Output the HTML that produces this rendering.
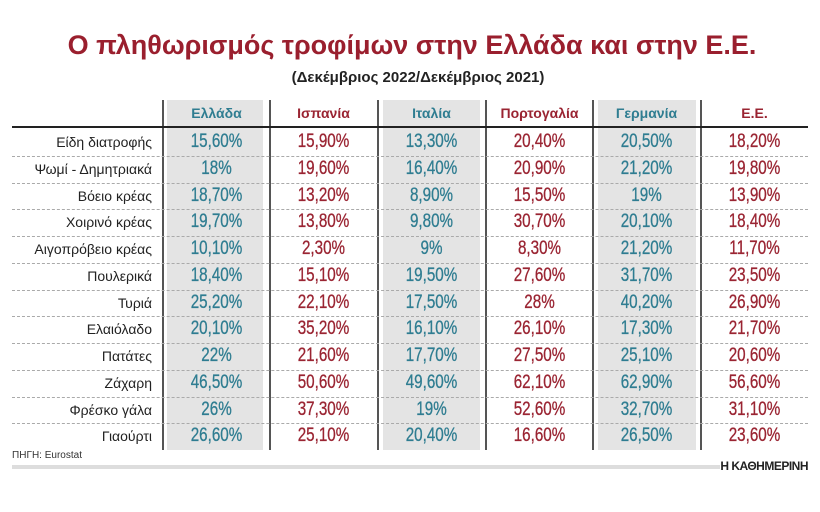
<!DOCTYPE html>
<html><head><meta charset="utf-8"><style>
body{margin:0;width:820px;height:512px;background:#fff;position:relative;overflow:hidden;font-family:"Liberation Sans","DejaVu Sans",sans-serif}
.t{position:absolute;left:0;width:820px;text-align:center}
.shade{position:absolute;background:#e4e4e4;top:100px;height:350px}
.sep{position:absolute;width:2px;background:#555;top:100px;height:350px}
.row{position:absolute;left:12px;width:796px;height:0;border-top:1px dashed #aaa}
.lab{position:absolute;right:668px;font-size:14px;color:#222;text-align:right;white-space:nowrap}
.v{position:absolute;width:107px;text-align:center;font-size:19px;transform:scaleX(0.8);-webkit-text-stroke:0.3px currentColor}
.h{position:absolute;width:107px;text-align:center;font-weight:bold;font-size:14px;top:105px}
.g{color:#2f7d91}.r{color:#9a2432}
</style></head><body>
<div class="t" style="top:30px;font-size:27px;font-weight:bold;color:#9a1f2e;left:2px">Ο πληθωρισμός τροφίμων στην Ελλάδα και στην Ε.Ε.</div>
<div class="t" style="top:69px;font-size:15px;font-weight:bold;color:#222;left:8px">(Δεκέμβριος 2022/Δεκέμβριος 2021)</div>
<div class="shade" style="left:167px;width:96px"></div>
<div class="shade" style="left:383px;width:97px"></div>
<div class="shade" style="left:598px;width:98px"></div>
<div class="sep" style="left:162px"></div><div class="sep" style="left:269px"></div><div class="sep" style="left:377px"></div><div class="sep" style="left:485px"></div><div class="sep" style="left:592px"></div><div class="sep" style="left:700px"></div>
<div style="position:absolute;left:12px;width:796px;top:126px;height:2px;background:#222"></div>
<div class="h g" style="left:163px">Ελλάδα</div><div class="h r" style="left:270px">Ισπανία</div><div class="h g" style="left:378px">Ιταλία</div><div class="h r" style="left:486px">Πορτογαλία</div><div class="h g" style="left:593px">Γερμανία</div><div class="h r" style="left:701px">Ε.Ε.</div>
<div id="rows"></div>
<div style="position:absolute;left:12px;top:450px;font-size:10px;color:#333">ΠΗΓΗ: Eurostat</div>
<div style="position:absolute;left:12px;width:708px;top:465px;height:4px;background:#ddd"></div>
<div style="position:absolute;right:12px;top:459px;font-size:12px;font-weight:bold;color:#222;letter-spacing:-0.5px">Η ΚΑΘΗΜΕΡΙΝΗ</div>
<script>
var d=[["Είδη διατροφής","15,60%","15,90%","13,30%","20,40%","20,50%","18,20%"],
["Ψωμί - Δημητριακά","18%","19,60%","16,40%","20,90%","21,20%","19,80%"],
["Βόειο κρέας","18,70%","13,20%","8,90%","15,50%","19%","13,90%"],
["Χοιρινό κρέας","19,70%","13,80%","9,80%","30,70%","20,10%","18,40%"],
["Αιγοπρόβειο κρέας","10,10%","2,30%","9%","8,30%","21,20%","11,70%"],
["Πουλερικά","18,40%","15,10%","19,50%","27,60%","31,70%","23,50%"],
["Τυριά","25,20%","22,10%","17,50%","28%","40,20%","26,90%"],
["Ελαιόλαδο","20,10%","35,20%","16,10%","26,10%","17,30%","21,70%"],
["Πατάτες","22%","21,60%","17,70%","27,50%","25,10%","20,60%"],
["Ζάχαρη","46,50%","50,60%","49,60%","62,10%","62,90%","56,60%"],
["Φρέσκο γάλα","26%","37,30%","19%","52,60%","32,70%","31,10%"],
["Γιαούρτι","26,60%","25,10%","20,40%","16,60%","26,50%","23,60%"]];
var h="",L=[163,270,378,486,593,701];
d.forEach(function(r,i){var y=129+i*26.75;
if(i>0)h+='<div class="row" style="top:'+(y)+'px"></div>';
h+='<div class="lab" style="top:'+(y+5)+'px">'+r[0]+'</div>';
for(var j=1;j<7;j++)h+='<div class="v '+(j%2?'g':'r')+'" style="left:'+L[j-1]+'px;top:'+(y+2)+'px">'+r[j]+'</div>';});
document.getElementById("rows").innerHTML=h;
</script>
</body></html>
